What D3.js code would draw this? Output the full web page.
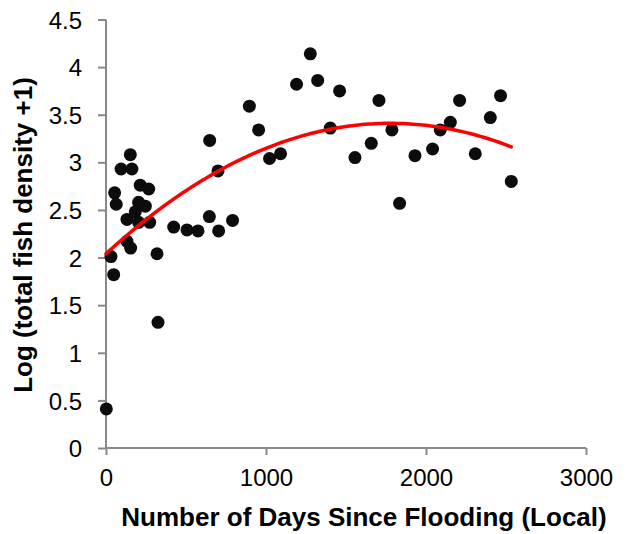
<!DOCTYPE html>
<html>
<head>
<meta charset="utf-8">
<script src="https://cdn.jsdelivr.net/npm/d3@7"></script>
<style>
  body { margin: 0; background: #fff; }
  svg { display: block; font-family: "Liberation Sans", Arial, sans-serif; }
</style>
</head>
<body>
<div id="chart"></div>
<script>
// days since flooding (x) and log(total fish density + 1) (y)
const days = [2, 31, 48, 54, 64, 94, 131, 131, 152, 154, 162, 183, 204, 204, 214, 246,
  267, 273, 319, 325, 423, 506, 575, 646, 648, 700, 704, 791, 896, 954, 1022, 1091,
  1191, 1277, 1323, 1402, 1460, 1556, 1658, 1706, 1787, 1835, 1931, 2041, 2089, 2152,
  2210, 2308, 2402, 2466, 2533];
const logDensity = [0.41, 2.01, 1.82, 2.68, 2.56, 2.93, 2.40, 2.17, 3.08, 2.10, 2.93, 2.48,
  2.37, 2.58, 2.76, 2.54, 2.72, 2.37, 2.04, 1.32, 2.32, 2.29, 2.28, 2.43, 3.23, 2.91,
  2.28, 2.39, 3.59, 3.34, 3.04, 3.09, 3.82, 4.14, 3.86, 3.36, 3.75, 3.05, 3.20, 3.65,
  3.34, 2.57, 3.07, 3.14, 3.34, 3.42, 3.65, 3.09, 3.47, 3.70, 2.80];

// polynomial trendline (order 2): y = a + b*x + c*x^2
const trendCoef = [2.04, 1.541e-3, -4.334e-7];
const trendRange = [0, 2533];

const xTicks = [0, 1000, 2000, 3000];
const yTicks = [0, 0.5, 1, 1.5, 2, 2.5, 3, 3.5, 4, 4.5];

const width = 636, height = 534;
const svg = d3.select("#chart").append("svg")
    .attr("width", width)
    .attr("height", height);

const x = d3.scaleLinear().domain([0, 3000]).range([106, 586]);
const y = d3.scaleLinear().domain([0, 4.5]).range([448, 19.5]);

const axisColor = "#898989";

// y axis
const yAxis = svg.append("g")
    .attr("transform", `translate(${x(0)},0)`)
    .call(d3.axisLeft(y).tickValues(yTicks).tickSize(8).tickPadding(16).tickFormat(d3.format("")));
// x axis
const xAxis = svg.append("g")
    .attr("transform", `translate(0,${y(0)})`)
    .call(d3.axisBottom(x).tickValues(xTicks).tickSize(7).tickPadding(14).tickFormat(d3.format("")));

[yAxis, xAxis].forEach(g => {
    g.select(".domain").attr("stroke", axisColor).attr("stroke-width", 2);
    g.selectAll(".tick line").attr("stroke", axisColor).attr("stroke-width", 2);
    g.selectAll(".tick text")
        .attr("fill", "#000")
        .style("font-size", "24px")
        .style("font-family", "Liberation Sans, Arial, sans-serif");
});
// domain path draws outer ticks; keep only the straight line
yAxis.select(".domain").attr("d", `M0,${y(4.5)}V${y(0)}`);
xAxis.select(".domain").attr("d", `M${x(0)},0H${x(3000)}`);
yAxis.selectAll(".tick text").attr("dy", "0.36em");

// points
const pts = days.map((d, i) => ({ x: d, y: logDensity[i] }));
svg.append("g")
    .selectAll("circle")
    .data(pts)
    .enter().append("circle")
    .attr("cx", d => x(d.x))
    .attr("cy", d => y(d.y))
    .attr("r", 6.5)
    .attr("fill", "#0c0c0c");

// trendline
const trendX = d3.range(trendRange[0], trendRange[1] + 1, 20).concat([trendRange[1]]);
const trend = trendX.map(v => ({ x: v, y: trendCoef[0] + trendCoef[1] * v + trendCoef[2] * v * v }));
svg.append("path")
    .datum(trend)
    .attr("fill", "none")
    .attr("stroke", "#ff0000")
    .attr("stroke-width", 3.5)
    .attr("stroke-linecap", "round")
    .attr("d", d3.line().x(d => x(d.x)).y(d => y(d.y)));

// axis titles
svg.append("text")
    .attr("x", 364)
    .attr("y", 526)
    .attr("text-anchor", "middle")
    .style("font-size", "26px")
    .style("font-weight", "bold")
    .text("Number of Days Since Flooding (Local)");

svg.append("text")
    .attr("transform", "translate(32,235) rotate(-90)")
    .attr("text-anchor", "middle")
    .style("font-size", "26px")
    .style("font-weight", "bold")
    .text("Log (total fish density +1)");
</script>
</body>
</html>
